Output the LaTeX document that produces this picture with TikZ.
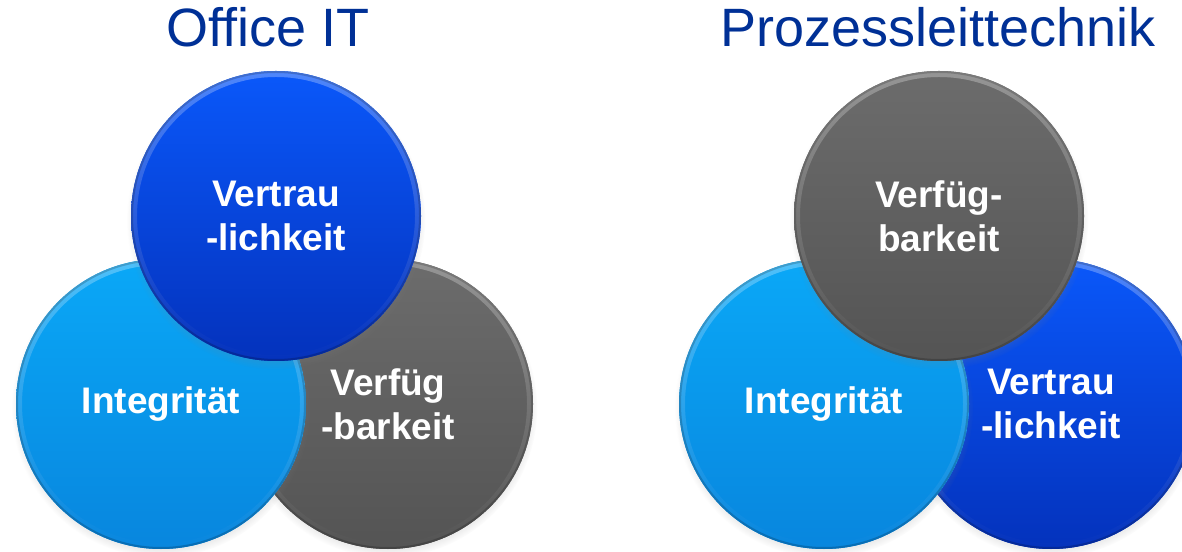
\documentclass[tikz,border=0pt]{standalone}
\usepackage{fontspec}
\setmainfont{Liberation Sans}
\usetikzlibrary{shadows,fadings}

\definecolor{titleblue}{RGB}{0,48,150}
\definecolor{skytop}{RGB}{10,168,247}
\definecolor{skybot}{RGB}{8,134,222}
\definecolor{royaltop}{RGB}{10,88,250}
\definecolor{royalbot}{RGB}{4,50,188}
\definecolor{slatetop}{RGB}{108,108,108}
\definecolor{slatebot}{RGB}{84,84,84}

\tikzset{
  disc/.style 2 args={circle, minimum size=290pt, inner sep=0pt, outer sep=0pt,
    align=center, text=white, font=\fontsize{37}{44}\selectfont\bfseries,
    top color=#1, bottom color=#2,
    circular drop shadow={shadow xshift=0pt, shadow yshift=-4pt,
      shadow scale=1.03, opacity=.4},
    path picture={
      % soft bevel: lighter band inside the upper edge
      \shade[top color=#1!72!white, bottom color=#2, even odd rule]
        (path picture bounding box.center) circle (145pt) circle (139pt);
      % thin darker edge
      \draw[black, opacity=.18, line width=2pt]
        (path picture bounding box.center) circle (144pt);
    }},
  sky/.style={disc={skytop}{skybot}},
  royal/.style={disc={royaltop}{royalbot}},
  slate/.style={disc={slatetop}{slatebot}},
  heading/.style={anchor=base, text=titleblue, font=\fontsize{54}{60}\selectfont}
}

\begin{document}
\begin{tikzpicture}[x=1pt, y=1pt]
  \useasboundingbox (0,0) rectangle (1182,551);

  % Office IT
  \node[heading] (officeTitle) at (268,504) {Office IT};
  \node[slate] (officeAvail) at (388,147) {Verfüg\\-barkeit};
  \node[sky]   (officeInteg) at (161,147) {Integrität};
  \node[royal] (officeConf)  at (276,335) {Vertrau\\-lichkeit};

  % Prozessleittechnik
  \node[heading] (plcTitle) at (938,504) {Prozessleittechnik};
  \node[royal] (plcConf)  at (1051,147) {Vertrau\\-lichkeit};
  \node[sky]   (plcInteg) at (824,147) {Integrität};
  \node[slate] (plcAvail) at (939,335) {Verfüg-\\barkeit};
\end{tikzpicture}
\end{document}
